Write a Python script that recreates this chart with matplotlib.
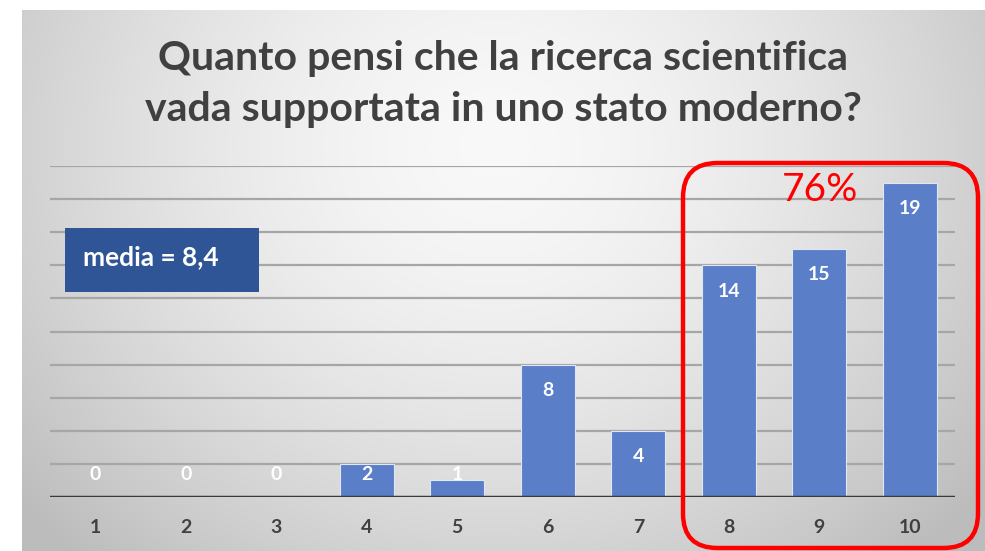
import numpy as np
import matplotlib
matplotlib.use("Agg")
import matplotlib.pyplot as plt
from matplotlib.patches import FancyBboxPatch, Rectangle

categories = ["1", "2", "3", "4", "5", "6", "7", "8", "9", "10"]
values = [0, 0, 0, 2, 1, 8, 4, 14, 15, 19]
title_text = "Quanto pensi che la ricerca scientifica\nvada supportata in uno stato moderno?"
mean_text = "media = 8,4"
share_text = "76%"

W, H = 985, 551
fig = plt.figure(figsize=(W / 100, H / 100), dpi=100)
fig.patch.set_facecolor("white")

# gradient background panel
bg = fig.add_axes([22 / W, 0, (W - 22) / W, (H - 10) / H])
bg.set_axis_off()
ny, nx = 270, 480
yy, xx = np.mgrid[0:ny, 0:nx]
cx, cy = nx * 0.49, ny * 0.25
r = np.sqrt(((xx - cx) / (nx * 0.6)) ** 2 + ((yy - cy) / (ny * 0.95)) ** 2)
v = np.clip(0.975 - 0.21 * r ** 1.6, 0.74, 1)
img = np.dstack([v, v, v])
bg.imshow(img, aspect="auto", extent=[0, 1, 0, 1], origin="upper")
bg.set_xlim(0, 1)
bg.set_ylim(0, 1)

ax = fig.add_axes([50 / W, 1 - 497 / H, 905 / W, (497 - 166) / H])
ax.set_facecolor("none")
x = np.arange(1, len(values) + 1)
ax.bar(x, values, width=0.6, color="#5A7FC8", edgecolor="#dfe6f5", linewidth=0.8, zorder=3)
ax.set_xlim(0.5, 10.5)
ax.set_ylim(0, 20)
ax.set_yticks(np.arange(2, 21, 2))
ax.yaxis.grid(True, color="#a6a6a6", linewidth=1.6, zorder=0)
ax.tick_params(axis="y", length=0, labelleft=False)
ax.tick_params(axis="x", length=0, pad=16)
ax.set_xticks(x)
ax.set_xticklabels(categories, fontsize=14, fontweight="bold", color="#404040", family="Lato")
for s in ax.spines.values():
    s.set_visible(False)
ax.axhline(0, color="#3a3a3a", linewidth=2.5, zorder=4)

for xi, vi in zip(x, values):
    ly = max(vi - 1.58, 1.33)
    ax.text(xi, ly, str(vi), ha="center", va="center", color="white",
            fontsize=14, fontweight="bold", family="Lato", zorder=5)

fig.text(503 / W, 1 - 84 / H, title_text, ha="center", va="center",
         fontsize=29.5, fontweight="bold", color="#404040", family="Lato",
         linespacing=1.45)

# mean box
fig.patches.append(Rectangle((65 / W, 1 - 292 / H), 194 / W, 64 / H,
                             transform=fig.transFigure, facecolor="#2F5597",
                             edgecolor="none", zorder=5))
fig.text(83 / W, 1 - 257 / H, mean_text, ha="left", va="center", color="white",
         fontsize=19, fontweight="bold", family="Lato", zorder=6)

# red rounded rectangle
fig.patches.append(FancyBboxPatch((683 / W, 1 - 548 / H), 295 / W, 385 / H,
                                  boxstyle="round,pad=0,rounding_size=0.035",
                                  transform=fig.transFigure, facecolor="none",
                                  edgecolor="#FF0000", linewidth=3.2, zorder=7,
                                  mutation_aspect=W / H))
fig.text(820 / W, 1 - 190 / H, share_text, ha="center", va="center",
         color="#FF0000", fontsize=28, family="Lato", zorder=8)

fig.savefig("out.png", dpi=100, facecolor="white")
